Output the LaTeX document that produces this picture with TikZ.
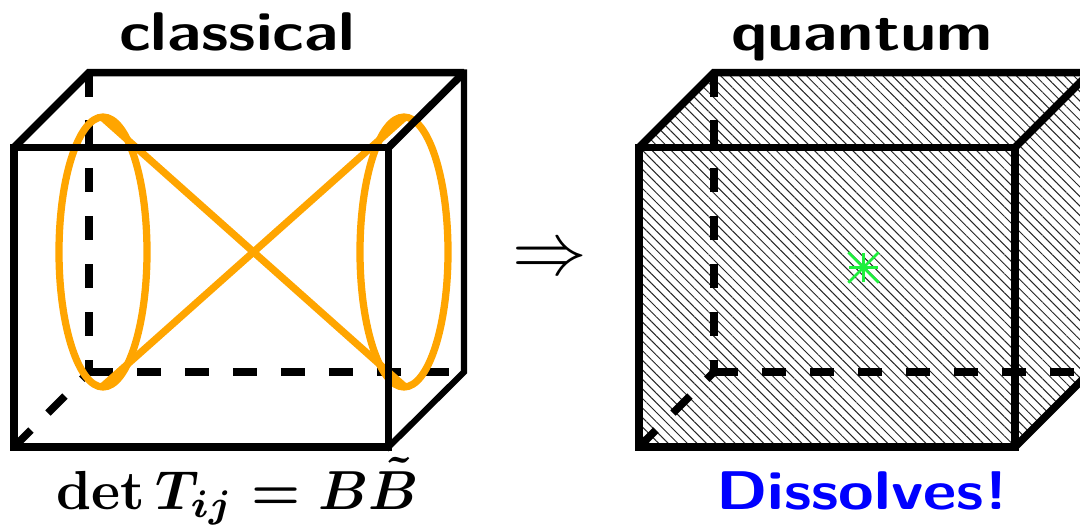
\documentclass[tikz,border=0pt]{standalone}
\usepackage{xcolor}
\usepackage{tikz}
\usetikzlibrary{positioning, patterns.meta}
\definecolor{ringorange}{RGB}{255,165,0}
\definecolor{stargreen}{RGB}{30,240,60}
\definecolor{dissolveblue}{RGB}{0,0,255}
\begin{document}
\begin{tikzpicture}[x=0.02cm, y=-0.02cm,
  edge/.style={line width=0.15cm, line join=miter},
  backedge/.style={line width=0.125cm, line join=miter, line cap=rect},
  hidden/.style={line width=0.15cm, dash pattern=on 0.48cm off 0.48cm},
  ring/.style={line width=0.145cm, draw=ringorange},
  title/.style={font=\sffamily\bfseries\fontsize{31}{36}\selectfont, anchor=base, xscale=1.19},
  hatch/.style={pattern={Lines[angle=-45, distance=0.135cm, line width=0.02cm]}, pattern color=black!85}]
  \useasboundingbox (0,0) rectangle (1080,529);
  \clip (0,0) rectangle (1080,529);
  % classical box
  \coordinate (lfa) at (14,147.5);
  \coordinate (lfb) at (388.5,147.5);
  \coordinate (lfc) at (388.5,447);
  \coordinate (lfd) at (14,447);
  \coordinate (lba) at (89,72.5);
  \coordinate (lbb) at (464,72.5);
  \coordinate (lbc) at (464,372);
  \coordinate (lbd) at (89,372);
  \draw[hidden] (lba) -- (lbd);
  \draw[hidden] (lbd) -- (lbc);
  \draw[hidden] (lfd) -- (lbd);
  \draw[ring] (103,252) ellipse [x radius=44, y radius=135];
  \draw[ring] (404,252) ellipse [x radius=44, y radius=135];
  \draw[ring] (103,118) -- (404,386);
  \draw[ring] (103,386) -- (404,118);
  \draw[backedge] (lbb) -- (lbc) -- (lfc);
  \draw[edge] (lfa) -- (lfb) -- (lfc) -- (lfd) -- cycle;
  \draw[edge] (lfa) -- (lba) -- (lbb);
  \draw[edge] (lfb) -- (lbb);
  % quantum box
  \coordinate (rfa) at (639,147.5);
  \coordinate (rfb) at (1015,147.5);
  \coordinate (rfc) at (1015,447);
  \coordinate (rfd) at (639,447);
  \coordinate (rba) at (714,72.5);
  \coordinate (rbb) at (1090,72.5);
  \coordinate (rbc) at (1090,372);
  \coordinate (rbd) at (714,372);
  \fill[hatch] (rfa) -- (rba) -- (rbb) -- (rbc) -- (rfc) -- (rfd) -- cycle;
  \draw[hidden] (rba) -- (rbd);
  \draw[hidden] (rbd) -- (rbc);
  \draw[hidden] (rfd) -- (rbd);
  \draw[edge] (rfa) -- (rfb) -- (rfc) -- (rfd) -- cycle;
  \draw[edge] (rfa) -- (rba) -- (rbb) -- (rbc) -- (rfc);
  \draw[edge] (rfb) -- (rbb);
  % defect
  \coordinate (star) at (863.5,267.5);
  \foreach \a/\r in {0/0.295,45/0.43,90/0.295,135/0.43}
    \draw[stargreen, line width=0.05cm] ([shift={(\a:\r cm)}]star) -- ([shift={(\a+180:\r cm)}]star);
  % labels
  \node[title] (classical) at (237,50) {classical};
  \node[title] (quantum) at (862,50) {quantum};
  \node[title, text=dissolveblue] (dissolves) at (862,509) {Dissolves!};
  \node[scale=3.13, anchor=base] (detlabel) at (237.5,509) {{\boldmath$\det T_{ij} = B\tilde{B}$}};
  \node[scale=4.25] (implies) at (550,261) {$\Rightarrow$};
\end{tikzpicture}
\end{document}
